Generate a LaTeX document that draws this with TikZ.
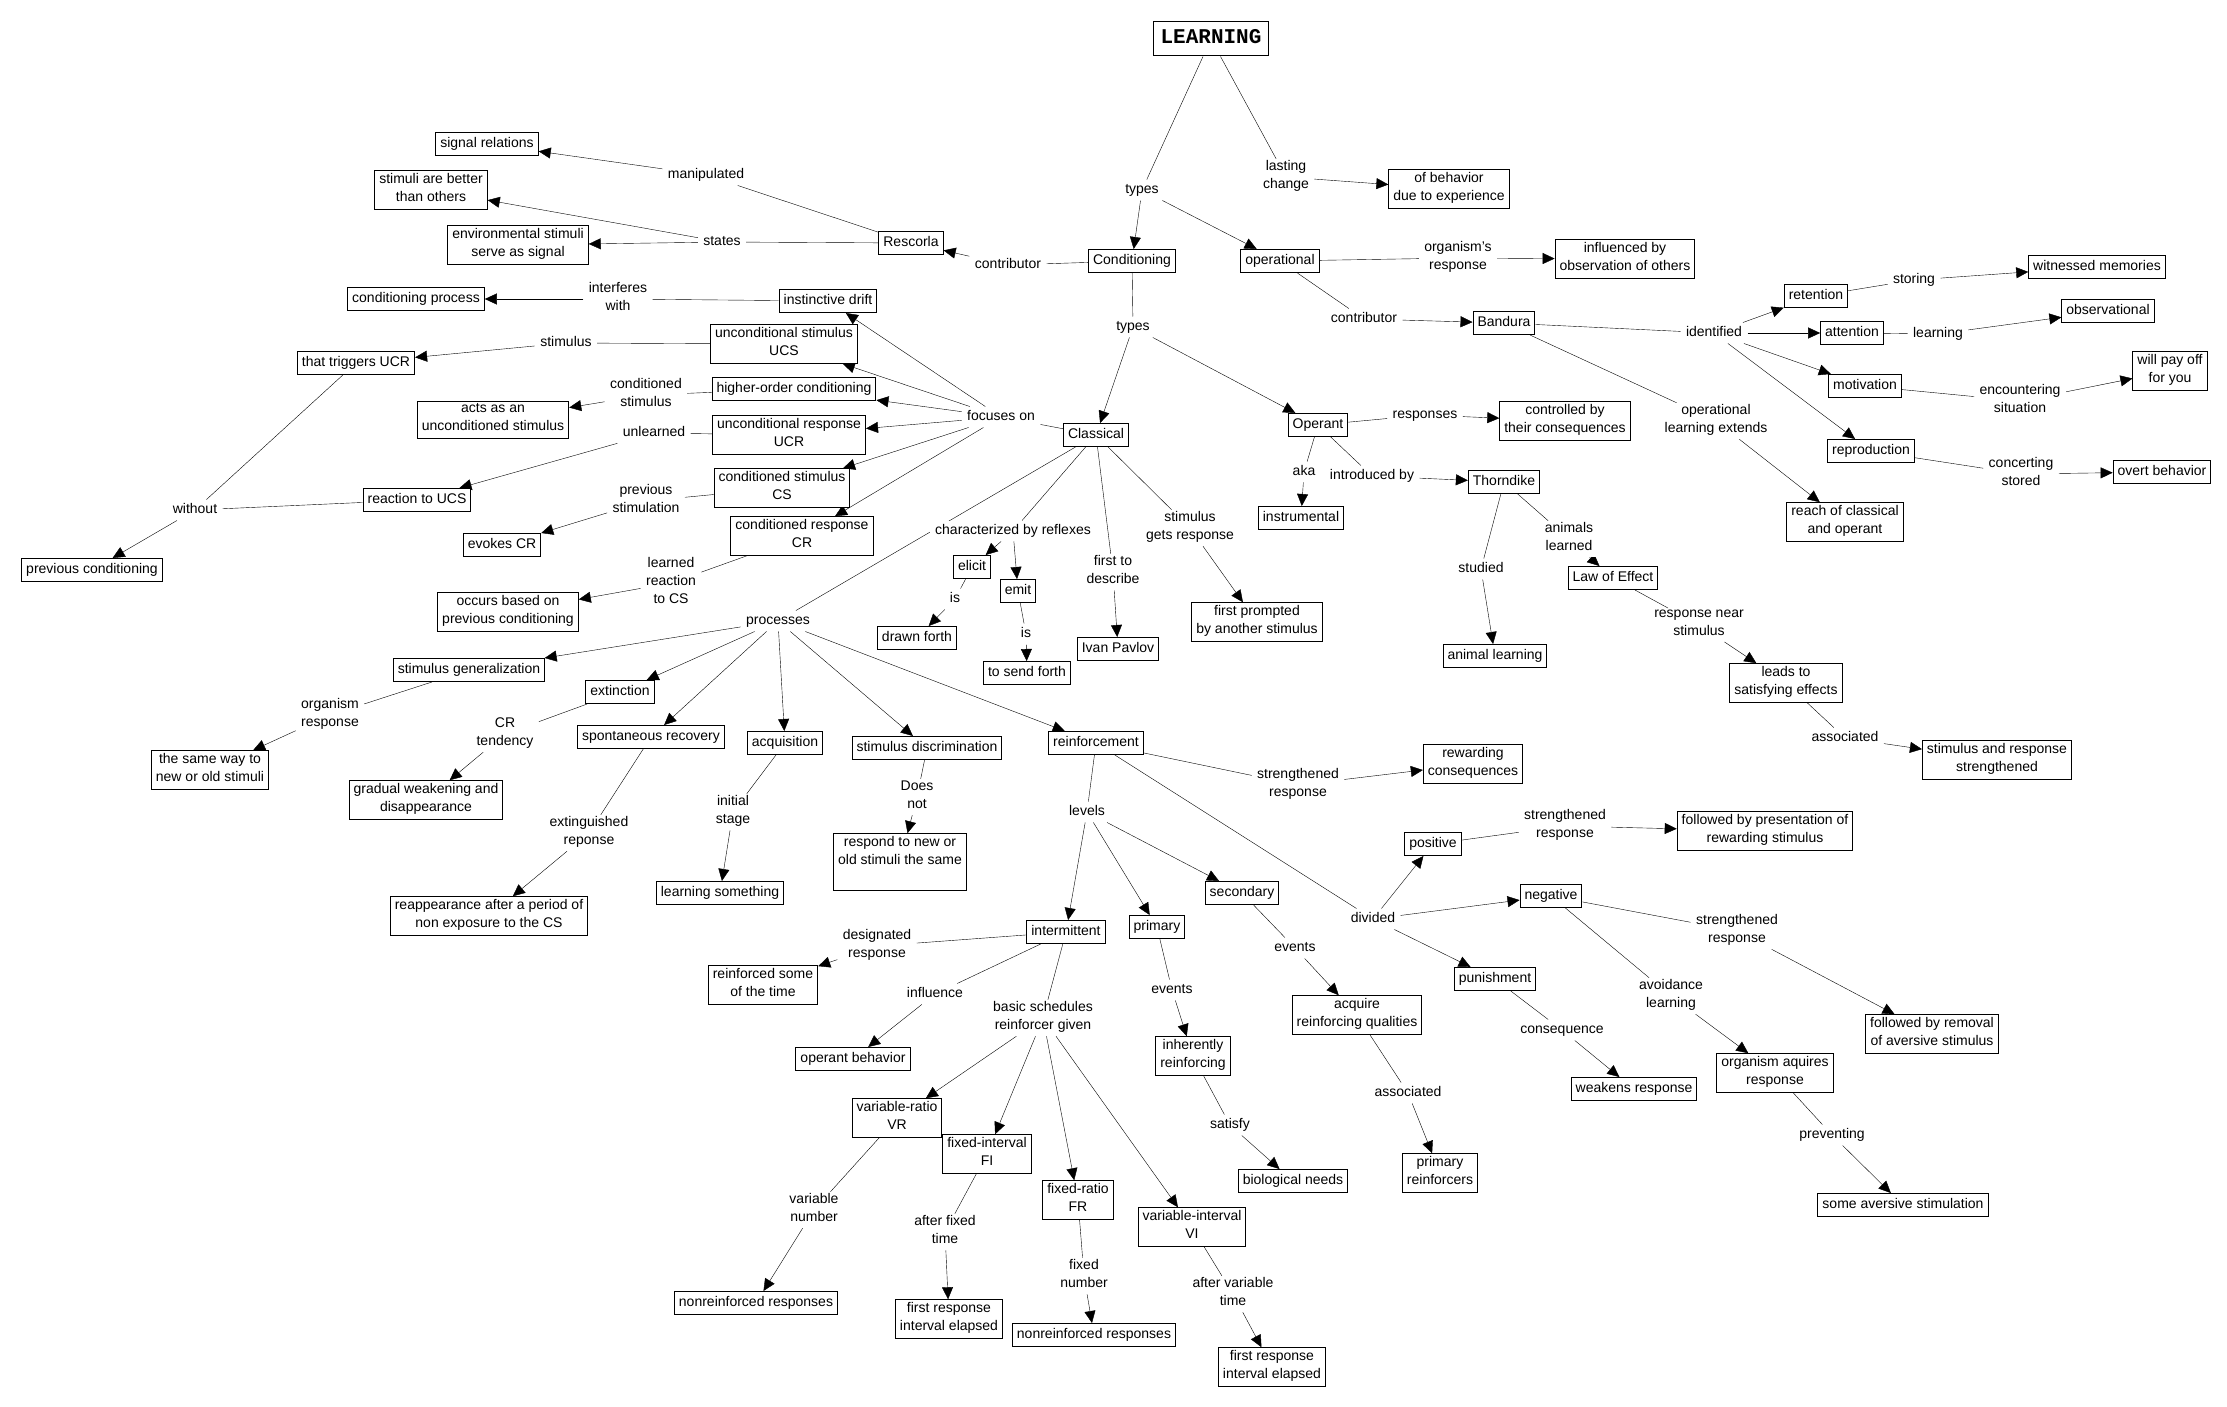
\documentclass[tikz,border=0pt]{standalone}
\usepackage{fontspec}
\setmainfont{Liberation Sans}
\setmonofont{Liberation Mono}
\usetikzlibrary{arrows.meta,backgrounds}
\newcommand{\cmapfont}{\fontsize{14}{18}\selectfont}
\tikzset{
    concept/.style={
        draw, fill=white, line width=1pt,
        inner xsep=4.5pt, inner ysep=2.5pt, align=center, font=\cmapfont,
        execute at begin node=\strut, execute at end node=\strut,
    },
    linkword/.style={
        fill=white, inner xsep=5pt, inner ysep=1pt, align=center, font=\cmapfont,
        execute at begin node=\strut, execute at end node=\strut,
    },
    topconcept/.style={
        draw, fill=white, line width=1pt, inner xsep=7pt, inner ysep=5pt,
        font=\fontsize{21}{24}\selectfont\ttfamily\bfseries,
        execute at begin node=\strut,
    }
}
\begin{document}
\begin{tikzpicture}
        [x=1pt,y=-1pt,line width=1pt,>={Triangle[length=12pt,width=11pt]}]
\useasboundingbox (0,0) rectangle (2227,1407);
% top of the map
\node[topconcept] (learning) at (1211,39) {LEARNING};
\node[linkword] (typesA) at (1142,190) {types};
\node[linkword] (lasting) at (1286,177) {lasting\\change};
\node[concept] (behavior) at (1449,189) {of behavior\\due to experience};
\node[concept] (cond) at (1132,261) {Conditioning};
\node[concept] (operational) at (1280,261) {operational};
\node[linkword] (contribA) at (1008,265) {contributor};
\node[concept] (rescorla) at (911,243) {Rescorla};
\node[linkword] (manip) at (706,175) {manipulated};
\node[concept] (signal) at (487,144) {signal relations};
\node[linkword] (states) at (722,242) {states};
\node[concept] (better) at (431,190) {stimuli are better\\than others};
\node[concept] (envstim) at (518,245) {environmental stimuli\\serve as signal};
% Bandura
\node[linkword] (orgresp) at (1458,258) {organism's\\response};
\node[concept] (influenced) at (1625,259) {influenced by\\observation of others};
\node[linkword] (contribB) at (1364,319) {contributor};
\node[concept] (bandura) at (1504,323) {Bandura};
\node[linkword] (identified) at (1714,333) {identified};
\node[concept] (retention) at (1816,296) {retention};
\node[concept] (attention) at (1852,333) {attention};
\node[concept] (motivation) at (1865,386) {motivation};
\node[concept] (reproduction) at (1871,451) {reproduction};
\node[linkword] (storing) at (1914,280) {storing};
\node[concept] (witnessed) at (2097,267) {witnessed memories};
\node[linkword] (learnlink) at (1938,334) {learning};
\node[concept] (observational) at (2108,311) {observational};
\node[linkword] (encountering) at (2020,401) {encountering\\situation};
\node[concept] (payoff) at (2170,371) {will pay off\\for you};
\node[linkword] (concerting) at (2021,474) {concerting\\stored};
\node[concept] (overt) at (2162,472) {overt behavior};
\node[linkword] (oplearn) at (1716,421) {operational\\learning extends};
\node[concept] (reach) at (1845,522) {reach of classical\\and operant};
% Operant
\node[linkword] (typesB) at (1133,327) {types};
\node[concept] (classical) at (1096,435) {Classical};
\node[concept] (operant) at (1318,425) {Operant};
\node[linkword] (responses) at (1425,415) {responses};
\node[concept] (controlled) at (1565,421) {controlled by\\their consequences};
\node[linkword] (aka) at (1304,472) {aka};
\node[concept] (instrumental) at (1301,518) {instrumental};
\node[linkword] (introduced) at (1372,476) {introduced by};
\node[concept] (thorndike) at (1504,482) {Thorndike};
\node[linkword] (studied) at (1481,569) {studied};
\node[concept] (animallearn) at (1495,656) {animal learning};
\node[linkword] (animals) at (1569,539) {animals\\learned};
\node[concept] (lawofeffect) at (1613,578) {Law of Effect};
\node[linkword] (respnear) at (1699,625) {response near\\stimulus};
\node[concept] (leadsto) at (1786,683) {leads to\\satisfying effects};
\node[linkword] (associatedA) at (1845,738) {associated};
\node[concept] (strengthsr) at (1997,760) {stimulus and response\\strengthened};
% Classical, left side
\node[linkword] (focuses) at (1001,417) {focuses on};
\node[concept] (drift) at (828,301) {instinctive drift};
\node[linkword] (interferes) at (618,299) {interferes\\with};
\node[concept] (condproc) at (416,299) {conditioning process};
\node[concept] (ucs) at (784,344) {unconditional stimulus\\UCS};
\node[linkword] (stimlink) at (566,343) {stimulus};
\node[concept] (triggers) at (356,363) {that triggers UCR};
\node[linkword] (without) at (195,510) {without};
\node[concept] (prevcond) at (92,570) {previous conditioning};
\node[concept] (hoc) at (794,389) {higher-order conditioning};
\node[linkword] (condstim) at (646,395) {conditioned\\stimulus};
\node[concept] (actsas) at (493,420) {acts as an\\unconditioned stimulus};
\node[concept] (ucr) at (789,435) {unconditional response\\UCR};
\node[linkword] (unlearned) at (654,433) {unlearned};
\node[concept] (reaction) at (417,500) {reaction to UCS};
\node[concept] (cs) at (782,488) {conditioned stimulus\\CS};
\node[linkword] (prevstim) at (646,501) {previous\\stimulation};
\node[concept] (evokes) at (502,545) {evokes CR};
\node[concept] (cr) at (802,536) {conditioned response\\CR};
\node[linkword] (learned) at (671,583) {learned\\reaction\\to CS};
\node[concept] (occurs) at (508,612) {occurs based on\\previous conditioning};
% Classical, below
\node[linkword] (charact) at (1013,531) {characterized by reflexes};
\node[concept] (elicit) at (972,567) {elicit};
\node[concept] (emit) at (1018,591) {emit};
\node[linkword] (isA) at (955,599) {is};
\node[linkword] (isB) at (1026,634) {is};
\node[concept] (drawn) at (917,638) {drawn forth};
\node[concept] (sendforth) at (1027,673) {to send forth};
\node[linkword] (firstto) at (1113,572) {first to\\describe};
\node[concept] (pavlov) at (1118,649) {Ivan Pavlov};
\node[linkword] (stimgets) at (1190,528) {stimulus\\gets response};
\node[concept] (prompted) at (1257,622) {first prompted\\by another stimulus};
% processes
\node[linkword] (processes) at (778,621) {processes};
\node[concept] (gen) at (469,670) {stimulus generalization};
\node[linkword] (orgresp2) at (330,715) {organism\\response};
\node[concept] (sameway) at (210,770) {the same way to\\new or old stimuli};
\node[concept] (ext) at (620,692) {extinction};
\node[linkword] (crtend) at (505,734) {CR\\tendency};
\node[concept] (gradual) at (426,800) {gradual weakening and\\disappearance};
\node[concept] (spont) at (651,737) {spontaneous recovery};
\node[linkword] (extresp) at (589,833) {extinguished\\reponse};
\node[concept] (reappear) at (489,916) {reappearance after a period of\\non exposure to the CS};
\node[concept] (acq) at (785,743) {acquisition};
\node[linkword] (initial) at (733,812) {initial\\stage};
\node[concept] (learnsth) at (720,893) {learning something};
\node[concept] (discr) at (927,748) {stimulus discrimination};
\node[linkword] (doesnot) at (917,797) {Does\\not};
\node[concept] (respond) at (900,862) {respond to new or\\old stimuli the same\\};
\node[concept] (reinf) at (1096,743) {reinforcement};
% reinforcement
\node[linkword] (strengthA) at (1298,785) {strengthened\\response};
\node[concept] (rewarding) at (1473,764) {rewarding\\consequences};
\node[linkword] (levels) at (1087,812) {levels};
\node[concept] (interm) at (1066,932) {intermittent};
\node[concept] (primary) at (1157,927) {primary};
\node[concept] (secondary) at (1242,893) {secondary};
\node[linkword] (divided) at (1373,919) {divided};
\node[concept] (positive) at (1433,844) {positive};
\node[concept] (negative) at (1551,896) {negative};
\node[concept] (punish) at (1495,979) {punishment};
\node[linkword] (strengthB) at (1565,826) {strengthened\\response};
\node[concept] (presentation) at (1765,831) {followed by presentation of\\rewarding stimulus};
\node[linkword] (strengthC) at (1737,931) {strengthened\\response};
\node[concept] (removal) at (1932,1034) {followed by removal\\of aversive stimulus};
\node[linkword] (avoidance) at (1671,996) {avoidance\\learning};
\node[concept] (aquires) at (1775,1073) {organism aquires\\response};
\node[linkword] (preventing) at (1832,1135) {preventing};
\node[concept] (aversive) at (1903,1205) {some aversive stimulation};
\node[linkword] (consequence) at (1562,1030) {consequence};
\node[concept] (weakens) at (1634,1089) {weakens response};
\node[linkword] (eventsS) at (1295,948) {events};
\node[concept] (acquire) at (1357,1015) {acquire\\reinforcing qualities};
\node[linkword] (associatedB) at (1408,1093) {associated};
\node[concept] (primrein) at (1440,1173) {primary\\reinforcers};
\node[linkword] (eventsP) at (1172,990) {events};
\node[concept] (inherently) at (1193,1056) {inherently\\reinforcing};
\node[linkword] (satisfy) at (1230,1125) {satisfy};
\node[concept] (bioneeds) at (1293,1181) {biological needs};
% schedules
\node[linkword] (designated) at (877,946) {designated\\response};
\node[concept] (reinsome) at (763,985) {reinforced some\\of the time};
\node[linkword] (influence) at (935,994) {influence};
\node[concept] (opbehav) at (853,1059) {operant behavior};
\node[linkword] (basic) at (1043,1018) {basic schedules\\reinforcer given};
\node[concept] (vr) at (897,1118) {variable-ratio\\VR};
\node[concept] (fi) at (987,1154) {fixed-interval\\FI};
\node[concept] (fr) at (1078,1200) {fixed-ratio\\FR};
\node[concept] (vi) at (1192,1227) {variable-interval\\VI};
\node[linkword] (varnum) at (814,1210) {variable\\number};
\node[concept] (nonreinA) at (756,1303) {nonreinforced responses};
\node[linkword] (afterfixed) at (945,1232) {after fixed\\time};
\node[concept] (firstrespA) at (949,1319) {first response\\interval elapsed};
\node[linkword] (fixednum) at (1084,1276) {fixed\\number};
\node[concept] (nonreinB) at (1094,1335) {nonreinforced responses};
\node[linkword] (aftervar) at (1233,1294) {after variable\\time};
\node[concept] (firstrespB) at (1272,1367) {first response\\interval elapsed};
\begin{scope}[on background layer]
\draw (learning) -- (typesA);
\foreach \t in {cond,operational} \draw[->] (typesA) -- (\t);
\draw (learning) -- (lasting);
\draw[->] (lasting) -- (behavior);
\draw (cond) -- (contribA);
\draw[->] (contribA) -- (rescorla);
\draw (rescorla) -- (manip);
\draw[->] (manip) -- (signal);
\draw (rescorla) -- (states);
\foreach \t in {better,envstim} \draw[->] (states) -- (\t);
% Bandura
\draw (operational) -- (orgresp);
\draw[->] (orgresp) -- (influenced);
\draw (operational) -- (contribB);
\draw[->] (contribB) -- (bandura);
\draw (bandura) -- (identified);
\foreach \t in {retention,attention,motivation,reproduction}
    \draw[->] (identified) -- (\t);
\draw (retention) -- (storing);
\draw[->] (storing) -- (witnessed);
\draw (attention) -- (learnlink);
\draw[->] (learnlink) -- (observational);
\draw (motivation) -- (encountering);
\draw[->] (encountering) -- (payoff);
\draw (reproduction) -- (concerting);
\draw[->] (concerting) -- (overt);
\draw (bandura) -- (oplearn);
\draw[->] (oplearn) -- (reach);
% Operant
\draw (cond) -- (typesB);
\foreach \t in {classical,operant} \draw[->] (typesB) -- (\t);
\draw (operant) -- (responses);
\draw[->] (responses) -- (controlled);
\draw (operant) -- (aka);
\draw[->] (aka) -- (instrumental);
\draw (operant) -- (introduced);
\draw[->] (introduced) -- (thorndike);
\draw (thorndike) -- (studied);
\draw[->] (studied) -- (animallearn);
\draw (thorndike) -- (animals);
\draw[->] (animals) -- (lawofeffect);
\draw (lawofeffect) -- (respnear);
\draw[->] (respnear) -- (leadsto);
\draw (leadsto) -- (associatedA);
\draw[->] (associatedA) -- (strengthsr);
% Classical
\draw (classical) -- (focuses);
\foreach \t in {drift,ucs,hoc,ucr,cs,cr} \draw[->] (focuses) -- (\t);
\draw (drift) -- (interferes);
\draw[->] (interferes) -- (condproc);
\draw (ucs) -- (stimlink);
\draw[->] (stimlink) -- (triggers);
\draw (triggers) -- (without);
\draw (reaction) -- (without);
\draw[->] (without) -- (prevcond);
\draw (hoc) -- (condstim);
\draw[->] (condstim) -- (actsas);
\draw (ucr) -- (unlearned);
\draw[->] (unlearned) -- (reaction);
\draw (cs) -- (prevstim);
\draw[->] (prevstim) -- (evokes);
\draw (cr) -- (learned);
\draw[->] (learned) -- (occurs);
\draw (classical) -- (charact);
\foreach \t in {elicit,emit} \draw[->] (charact) -- (\t);
\draw (elicit) -- (isA);
\draw[->] (isA) -- (drawn);
\draw (emit) -- (isB);
\draw[->] (isB) -- (sendforth);
\draw (classical) -- (firstto);
\draw[->] (firstto) -- (pavlov);
\draw (classical) -- (stimgets);
\draw[->] (stimgets) -- (prompted);
% processes
\draw (classical) -- (processes);
\foreach \t in {gen,ext,spont,acq,discr,reinf} \draw[->] (processes) -- (\t);
\draw (gen) -- (orgresp2);
\draw[->] (orgresp2) -- (sameway);
\draw (ext) -- (crtend);
\draw[->] (crtend) -- (gradual);
\draw (spont) -- (extresp);
\draw[->] (extresp) -- (reappear);
\draw (acq) -- (initial);
\draw[->] (initial) -- (learnsth);
\draw (discr) -- (doesnot);
\draw[->] (doesnot) -- (respond);
% reinforcement
\draw (reinf) -- (strengthA);
\draw[->] (strengthA) -- (rewarding);
\draw (reinf) -- (levels);
\foreach \t in {interm,primary,secondary} \draw[->] (levels) -- (\t);
\draw (reinf) -- (divided);
\foreach \t in {positive,negative,punish} \draw[->] (divided) -- (\t);
\draw (positive) -- (strengthB);
\draw[->] (strengthB) -- (presentation);
\draw (negative) -- (strengthC);
\draw[->] (strengthC) -- (removal);
\draw (negative) -- (avoidance);
\draw[->] (avoidance) -- (aquires);
\draw (aquires) -- (preventing);
\draw[->] (preventing) -- (aversive);
\draw (punish) -- (consequence);
\draw[->] (consequence) -- (weakens);
\draw (secondary) -- (eventsS);
\draw[->] (eventsS) -- (acquire);
\draw (acquire) -- (associatedB);
\draw[->] (associatedB) -- (primrein);
\draw (primary) -- (eventsP);
\draw[->] (eventsP) -- (inherently);
\draw (inherently) -- (satisfy);
\draw[->] (satisfy) -- (bioneeds);
% schedules
\draw (interm) -- (designated);
\draw[->] (designated) -- (reinsome);
\draw (interm) -- (influence);
\draw[->] (influence) -- (opbehav);
\draw (interm) -- (basic);
\foreach \t in {vr,fi,fr,vi} \draw[->] (basic) -- (\t);
\draw (vr) -- (varnum);
\draw[->] (varnum) -- (nonreinA);
\draw (fi) -- (afterfixed);
\draw[->] (afterfixed) -- (firstrespA);
\draw (fr) -- (fixednum);
\draw[->] (fixednum) -- (nonreinB);
\draw (vi) -- (aftervar);
\draw[->] (aftervar) -- (firstrespB);
\end{scope}
\end{tikzpicture}
\end{document}
